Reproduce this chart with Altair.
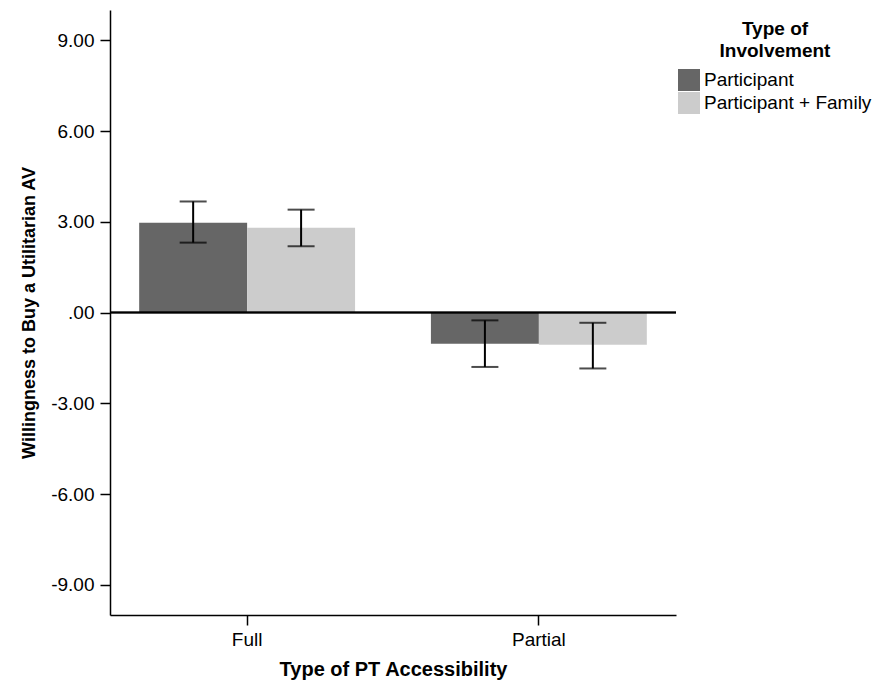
import altair as alt
import pandas as pd

categories = ["Full", "Full", "Partial", "Partial"]
involvement = ["Participant", "Participant + Family", "Participant", "Participant + Family"]
means = [2.97, 2.80, -1.03, -1.07]
lower = [2.31, 2.19, -1.80, -1.85]
upper = [3.67, 3.40, -0.26, -0.34]
y_ticks = [-9, -6, -3, 0, 3, 6, 9]
colors = ["#666666", "#cccccc"]

df = pd.DataFrame({
    "access": categories,
    "inv": involvement,
    "mean": means,
    "lo": lower,
    "hi": upper,
})

FONT = "Liberation Sans"

x_enc = alt.X("access:N", title="Type of PT Accessibility",
              scale=alt.Scale(paddingInner=0.26, paddingOuter=0.1),
              axis=alt.Axis(labelAngle=0, labelFontSize=19, titleFontSize=20,
                            titleFontWeight="bold", tickSize=10, labelPadding=5,
                            titlePadding=10, domainColor="black", tickColor="black",
                            domainWidth=1.5, tickWidth=1.5, labelColor="black",
                            titleColor="black"))
xo_enc = alt.XOffset("inv:N", scale=alt.Scale(paddingInner=0, paddingOuter=0,
                                                domain=["Participant", "Participant + Family"]))
y_scale = alt.Scale(domain=[-10, 10], nice=False)

bars = alt.Chart(df).mark_bar(strokeWidth=0).encode(
    x=x_enc,
    xOffset=xo_enc,
    y=alt.Y("mean:Q", scale=y_scale, title="Willingness to Buy a Utilitarian AV",
            axis=alt.Axis(values=y_ticks,
                          labelExpr="datum.value == 0 ? '.00' : replace(format(datum.value, '.2f'), '\u2212', '-')",
                          labelFontSize=19, titleFontSize=18, titleFontWeight="bold",
                          tickSize=10, labelPadding=6, titlePadding=12, grid=False,
                          domainColor="black", tickColor="black", domainWidth=1.5,
                          tickWidth=1.5, labelColor="black", titleColor="black")),
    color=alt.Color("inv:N", title=["Type of", "Involvement"],
                    scale=alt.Scale(domain=["Participant", "Participant + Family"], range=colors),
                    legend=alt.Legend(orient="none", legendX=568, legendY=10,
                                      symbolType="square", symbolSize=484,
                                      symbolStrokeWidth=0, labelFontSize=19,
                                      titleFontSize=19, titleFontWeight="bold",
                                      titleAnchor="middle", titleAlign="center",
                                      titleLineHeight=22, labelOffset=4, rowPadding=1,
                                      labelLimit=0, titleLimit=0,
                                      titlePadding=8, labelColor="black", titleColor="black")),
)

rules = alt.Chart(df).mark_rule(color="black", strokeWidth=2).encode(
    x="access:N", xOffset=xo_enc, y=alt.Y("lo:Q", scale=y_scale), y2="hi:Q")

caps_lo = alt.Chart(df).mark_tick(color="black", thickness=2, size=27, orient="horizontal").encode(
    x="access:N", xOffset=xo_enc, y=alt.Y("lo:Q", scale=y_scale))
caps_hi = alt.Chart(df).mark_tick(color="black", thickness=2, size=27, orient="horizontal").encode(
    x="access:N", xOffset=xo_enc, y=alt.Y("hi:Q", scale=y_scale))

zero = alt.Chart(df).mark_rule(color="black", strokeWidth=1.5).encode(y=alt.datum(0, scale=y_scale))

chart = alt.layer(bars, zero, rules, caps_lo, caps_hi).properties(
    width=566, height=605,
    autosize=alt.AutoSizeParams(type="none"),
    padding={"left": 102, "top": 2, "right": 210, "bottom": 68},
).configure(font=FONT).configure_view(stroke=None)

chart.save("out.html", embed_options={"renderer": "svg", "actions": False})
